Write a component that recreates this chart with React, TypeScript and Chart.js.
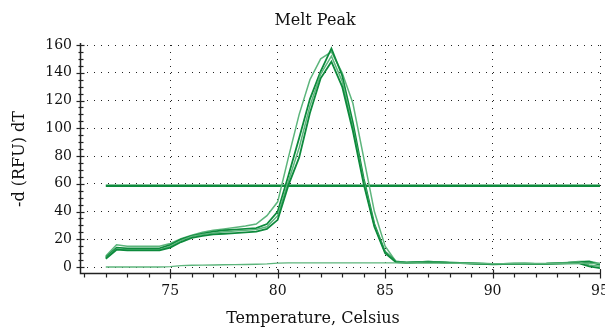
import React, { useEffect, useRef } from "react";
import { Chart, registerables } from "chart.js";

Chart.register(...registerables);

// Temperature samples (°C)
const temps = [
  72.0, 72.5, 73.0, 73.5, 74.0, 74.5, 75.0, 75.5, 76.0, 76.5, 77.0, 77.5,
  78.0, 78.5, 79.0, 79.5, 80.0, 80.5, 81.0, 81.5, 82.0, 82.5, 83.0, 83.5,
  84.0, 84.5, 85.0, 85.5, 86.0, 86.5, 87.0, 87.5, 88.0, 88.5, 89.0, 89.5,
  90.0, 90.5, 91.0, 91.5, 92.0, 92.5, 93.0, 93.5, 94.0, 94.5, 95.0,
];

// -d(RFU)/dT per well
const wellA = [
  8, 16, 15, 15, 15, 15, 17, 20.5, 23, 25, 26.5, 27.5, 28.5, 29.5, 31, 37,
  47, 79, 110, 135, 150, 155, 140, 118, 79, 40, 15, 4,
  3.5, 3.8, 3.6, 3.4, 3.1, 2.9, 2.7, 2.4, 2.2, 2.3, 2.5, 2.6, 2.4, 2.5, 2.8, 3.2, 3.9, 4.2, 2.5,
];
const wellB = [
  7, 14, 13.5, 13.5, 13.5, 13.5, 16, 20, 22.5, 24, 25.5, 26.5, 27, 27.5, 28, 31,
  40, 66, 93, 121, 141, 157.5, 138, 104, 64, 31, 11, 4,
  3.2, 3.6, 3.8, 3.5, 3.2, 3.0, 2.7, 2.5, 2.1, 2.2, 2.4, 2.5, 2.3, 2.4, 2.7, 3.0, 3.5, 3.8, 1.5,
];
const wellC = [
  6, 12.5, 12, 12, 12, 12, 14, 18, 21, 22.5, 23.5, 24, 24.5, 25, 25.5, 27.5,
  34, 59, 79, 111, 136, 148, 130, 98, 60, 29, 10, 3.5,
  3.0, 3.3, 3.5, 3.3, 3.0, 2.8, 2.5, 2.3, 2.0, 2.1, 2.2, 2.3, 2.1, 2.2, 2.4, 2.6, 2.8, 0.5, -0.8,
];
const wellD = [
  6.5, 13, 12.5, 12.5, 12.5, 12.5, 15, 19, 22, 23.5, 24.5, 25.5, 26, 26.5, 27, 29,
  37, 62, 86, 116, 139, 152, 134, 100, 62, 30, 10.5, 3.8,
  3.3, 3.7, 3.9, 3.6, 3.3, 3.0, 2.8, 2.6, 2.3, 2.4, 2.6, 2.7, 2.5, 2.6, 2.9, 3.3, 3.6, 1.5, 0.5,
];
const ntc = [
  0, 0, 0, 0, 0, 0, 0.3, 1, 1.3, 1.4, 1.5, 1.6, 1.7, 1.8, 2.0, 2.3,
  2.8, 3.0, 3.0, 3.0, 3.0, 3.0, 3.0, 3.0, 3.0, 3.0, 3.0, 3.0,
  2.9, 2.9, 2.8, 2.8, 2.7, 2.7, 2.6, 2.5, 2.4, 2.4, 2.4, 2.4, 2.4, 2.4, 2.4, 2.5, 2.6, 2.6, 2.5,
];

// Threshold line
const thresholdTemps = [72.0, 95.0];
const thresholdValue = 58.5;

const xTickLabels = ["75", "80", "85", "90", "95"];
const yTickLabels = ["0", "20", "40", "60", "80", "100", "120", "140", "160"];

const chartTitle = "Melt Peak";
const xTitle = "Temperature, Celsius";
const yTitle = "-d (RFU) dT";

const DARK = "#0d8a3c";
const LIGHT = "#5db57c";
const FONT = "'DejaVu Serif', serif";

export default function App() {
  const ref = useRef<HTMLCanvasElement | null>(null);

  useEffect(() => {
    if (!ref.current) return;
    const pts = (vals: number[]) => temps.map((t, i) => ({ x: t, y: vals[i] }));

    const axesPlugin = {
      id: "axesTicks",
      afterDraw(chart: any) {
        const { ctx, chartArea, scales } = chart;
        const xs = scales.x;
        const ys = scales.y;
        const ax = Math.round(chartArea.left) + 0.5;
        const ay = Math.round(chartArea.bottom) + 0.5;
        ctx.save();
        ctx.strokeStyle = "#222";
        ctx.lineWidth = 1.5;
        ctx.beginPath();
        ctx.moveTo(ax, chartArea.top - 2);
        ctx.lineTo(ax, ay);
        ctx.lineTo(chartArea.right, ay);
        ctx.stroke();
        ctx.lineWidth = 1.2;
        for (let v = 0; v <= 160; v += 5) {
          const py = Math.round(ys.getPixelForValue(v)) + 0.5;
          const major = v % 20 === 0;
          ctx.beginPath();
          ctx.moveTo(ax - (major ? 4 : 2), py);
          ctx.lineTo(ax + (major ? 4 : 3), py);
          ctx.stroke();
        }
        for (let t = 71; t <= 95; t += 1) {
          const px = Math.round(xs.getPixelForValue(t)) + 0.5;
          const major = t % 5 === 0;
          ctx.beginPath();
          ctx.moveTo(px, ay - (major ? 4 : 0));
          ctx.lineTo(px, ay + (major ? 5 : 4));
          ctx.stroke();
        }
        // titles
        ctx.fillStyle = "#111";
        ctx.font = `16px ${FONT}`;
        ctx.textAlign = "center";
        ctx.textBaseline = "middle";
        ctx.fillText(chartTitle, 315, 21);
        ctx.fillText(xTitle, 313, 319);
        ctx.restore();
      },
    };

    const chart = new Chart(ref.current, {
      type: "line",
      data: {
        datasets: [
          { data: pts(ntc), borderColor: LIGHT, borderWidth: 1.4 },
          { data: pts(wellC), borderColor: DARK, borderWidth: 1.8 },
          { data: pts(wellD), borderColor: LIGHT, borderWidth: 1.5 },
          { data: pts(wellB), borderColor: DARK, borderWidth: 1.8 },
          { data: pts(wellA), borderColor: LIGHT, borderWidth: 1.5 },
          {
            data: thresholdTemps.map((t) => ({ x: t, y: thresholdValue })),
            borderColor: DARK,
            borderWidth: 2.5,
          },
        ],
      },
      options: {
        animation: false,
        responsive: false,
        events: [],
        layout: { padding: { left: 0, right: 5, top: 45, bottom: 0 } },
        elements: { point: { radius: 0 }, line: { tension: 0 } },
        plugins: {
          legend: { display: false },
          tooltip: { enabled: false },
          title: { display: false },
        },
        scales: {
          x: {
            type: "linear",
            min: 70.8,
            max: 95,
            ticks: {
              stepSize: 5,
              includeBounds: false,
              maxRotation: 0,
              autoSkip: false,
              padding: 10,
              color: "#111",
              font: { family: FONT, size: 14 },
              callback: (v: any) => {
                const i = [75, 80, 85, 90, 95].indexOf(Number(v));
                return i >= 0 ? xTickLabels[i] : "";
              },
            },
            grid: { color: "#222", lineWidth: 1, drawTicks: false },
            border: { display: false, dash: [1, 6] },
            title: { display: false },
            afterFit(s: any) {
              s.height = 57;
              s.paddingLeft = 0;
              s.paddingRight = 0;
            },
          },
          y: {
            type: "linear",
            min: -4.3,
            max: 160,
            ticks: {
              stepSize: 20,
              includeBounds: false,
              padding: 8,
              color: "#111",
              font: { family: FONT, size: 14 },
              callback: (v: any) => {
                const i = Math.round(Number(v) / 20);
                return Number(v) % 20 === 0 && i >= 0 && i < yTickLabels.length ? yTickLabels[i] : "";
              },
            },
            grid: { color: "#222", lineWidth: 1, drawTicks: false },
            border: { display: false, dash: [1, 6] },
            title: {
              display: true,
              text: yTitle,
              color: "#111",
              font: { family: FONT, size: 16, weight: "normal" },
              padding: { top: 10, bottom: 0 },
            },
            afterFit(s: any) {
              s.width = 80;
              s.paddingTop = 0;
              s.paddingBottom = 0;
            },
          },
        },
      },
      plugins: [axesPlugin],
    } as any);
    return () => chart.destroy();
  }, []);

  return (
    <div style={{ position: "absolute", left: 0, top: 0, width: 605, height: 330, background: "#fff" }}>
      <canvas ref={ref} width={605} height={330} style={{ display: "block" }} />
    </div>
  );
}
